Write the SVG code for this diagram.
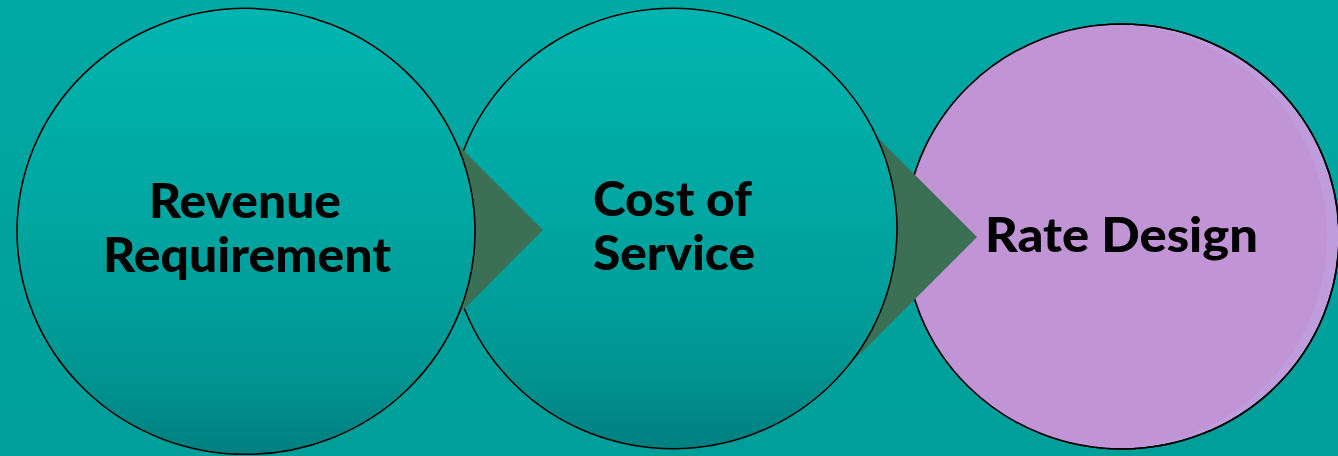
<svg xmlns="http://www.w3.org/2000/svg" width="1338" height="456" viewBox="0 0 1338 456">
<defs>
<linearGradient id="bg" x1="0" y1="0" x2="0" y2="1">
<stop offset="0" stop-color="#00A9A4"/>
<stop offset="1" stop-color="#009E99"/>
</linearGradient>
<linearGradient id="teal" x1="0" y1="0" x2="0" y2="1">
<stop offset="0" stop-color="#00B5B0"/>
<stop offset="0.5" stop-color="#00A5A0"/>
<stop offset="0.8" stop-color="#009793"/>
<stop offset="1" stop-color="#007F80"/>
</linearGradient>
<style>
.node{stroke:#000;stroke-width:1.6}
.teal{fill:url(#teal)}
.arrow{fill:#3B7055}
.lbl{font-family:Lato,"Open Sans","Liberation Sans",sans-serif;font-weight:900;font-size:48px;fill:#000;text-anchor:middle}
</style>
</defs>
<rect width="1338" height="456" fill="url(#bg)"/>
<g id="node-rate-design">
<ellipse class="node" cx="1122" cy="236.5" rx="217" ry="212.5" fill="#BF9CDB"/>
<ellipse cx="1116" cy="236.5" rx="211" ry="211.5" fill="#C195D5"/>
<ellipse cx="1122" cy="236.5" rx="217" ry="212.5" fill="none" stroke="#000" stroke-width="1.6"/>
<text class="lbl" x="1121.5" y="252" textLength="273" lengthAdjust="spacingAndGlyphs">Rate Design</text>
</g>
<g id="connectors">
<polygon id="arrow-2" class="arrow" points="977,237 845,105 845,369"/>
</g>
<g id="node-cost-of-service">
<ellipse class="node teal" cx="673" cy="228.5" rx="224" ry="220.2"/>
<text class="lbl" x="672.5" y="216" textLength="159" lengthAdjust="spacingAndGlyphs">Cost of</text>
<text class="lbl" x="674" y="270" textLength="162" lengthAdjust="spacingAndGlyphs">Service</text>
</g>
<g id="connectors-2">
<polygon id="arrow-1" class="arrow" points="543,230 380,67 380,393"/>
</g>
<g id="node-revenue-requirement">
<ellipse class="node teal" cx="246" cy="231.3" rx="229" ry="223"/>
<text class="lbl" x="245" y="218" textLength="192" lengthAdjust="spacingAndGlyphs">Revenue</text>
<text class="lbl" x="247" y="272" textLength="288" lengthAdjust="spacingAndGlyphs">Requirement</text>
</g>
</svg>
